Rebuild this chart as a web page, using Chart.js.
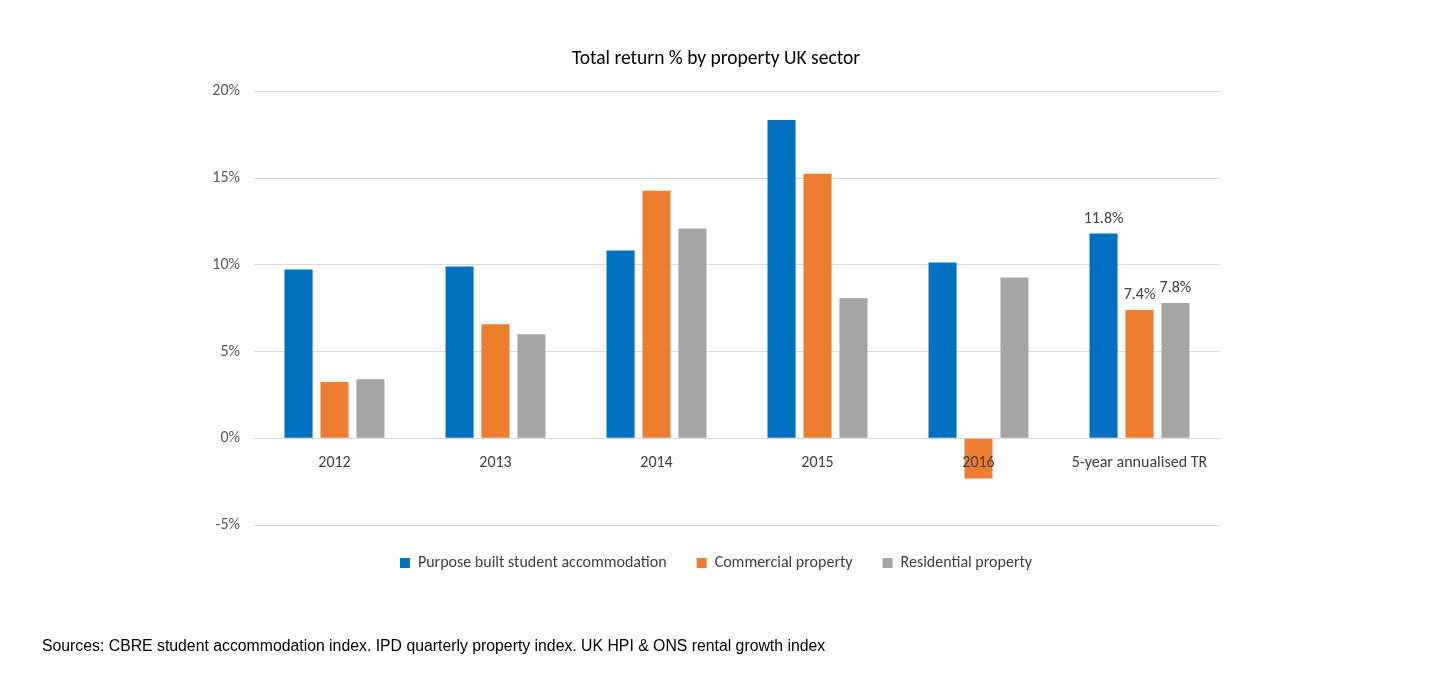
<!DOCTYPE html>
<html>
<head>
<meta charset="utf-8">
<script src="https://cdn.jsdelivr.net/npm/chart.js@4/dist/chart.umd.min.js"></script>
<style>
  html, body { margin: 0; padding: 0; background: #fff; }
  #wrap { position: relative; width: 1440px; height: 675px; }
  #source {
    position: absolute; left: 42px; top: 637px;
    font-family: "Liberation Sans", Arial, sans-serif; font-size: 15.8px; color: #000;
  }
</style>
</head>
<body>
<div id="wrap">
  <canvas id="chart" width="1440" height="675"></canvas>
  <div id="source">Sources: CBRE student accommodation index. IPD quarterly property index. UK HPI &amp; ONS rental growth index</div>
</div>
<script>
const categories = ['2012', '2013', '2014', '2015', '2016', '5-year annualised TR'];
const studentAccommodation = [9.73, 9.9, 10.82, 18.35, 10.13, 11.8];
const commercialProperty = [3.24, 6.57, 14.27, 15.25, -2.32, 7.4];
const residentialProperty = [3.41, 6.0, 12.09, 8.07, 9.27, 7.8];
const yTicks = [-5, 0, 5, 10, 15, 20];

const FONT = 'Carlito, Calibri, Lato, sans-serif';

// only the last group carries value labels in the original
const lastLabels = {
    id: 'lastLabels',
    afterDatasetsDraw(chart) {
        const ctx = chart.ctx;
        const last = categories.length - 1;
        ctx.save();
        ctx.font = '16px ' + FONT;
        ctx.fillStyle = '#404040';
        ctx.textAlign = 'center';
        ctx.textBaseline = 'bottom';
        chart.data.datasets.forEach((ds, i) => {
            const bar = chart.getDatasetMeta(i).data[last];
            ctx.fillText(ds.data[last].toFixed(1) + '%', bar.x, bar.y - 7);
        });
        ctx.restore();
    }
};

const ctx = document.getElementById('chart').getContext('2d');
new Chart(ctx, {
    type: 'bar',
    data: {
        labels: categories,
        datasets: [{
            label: 'Purpose built student accommodation',
            data: studentAccommodation,
            backgroundColor: '#0070C0'
        }, {
            label: 'Commercial property',
            data: commercialProperty,
            backgroundColor: '#ED7D31'
        }, {
            label: 'Residential property',
            data: residentialProperty,
            backgroundColor: '#A5A5A5'
        }]
    },
    options: {
        responsive: false,
        animation: false,
        datasets: {
            bar: { categoryPercentage: 0.67, barPercentage: 0.78 }
        },
        layout: {
            padding: { top: 47, left: 212, right: 220, bottom: 94 }
        },
        plugins: {
            title: {
                display: true,
                text: 'Total return % by property UK sector',
                color: '#000',
                font: { family: FONT, size: 19.5, weight: 'normal' },
                padding: { top: 0, bottom: 21 }
            },
            legend: {
                position: 'bottom',
                labels: {
                    usePointStyle: true,
                    pointStyle: 'rect',
                    boxWidth: 10,
                    boxHeight: 10,
                    padding: 30,
                    color: '#404040',
                    font: { family: FONT, size: 16 }
                }
            },
            tooltip: { enabled: false }
        },
        scales: {
            x: {
                position: { y: 0 },
                grid: { display: false },
                border: { display: true, color: '#D9D9D9', width: 1 },
                ticks: {
                    z: 1, // 2016 label sits on top of the negative bar
                    color: '#404040',
                    padding: 7,
                    maxRotation: 0,
                    font: { family: FONT, size: 16 }
                }
            },
            y: {
                min: yTicks[0],
                max: yTicks[yTicks.length - 1],
                afterBuildTicks: (axis) => { axis.ticks = yTicks.map(v => ({ value: v })); },
                afterFit: (axis) => { axis.width = 42; },
                grid: { color: '#D9D9D9', drawTicks: false },
                border: { display: false },
                ticks: {
                    color: '#595959',
                    padding: 14,
                    font: { family: FONT, size: 16 },
                    callback: (v) => v + '%'
                }
            }
        }
    },
    plugins: [lastLabels]
});
</script>
</body>
</html>
